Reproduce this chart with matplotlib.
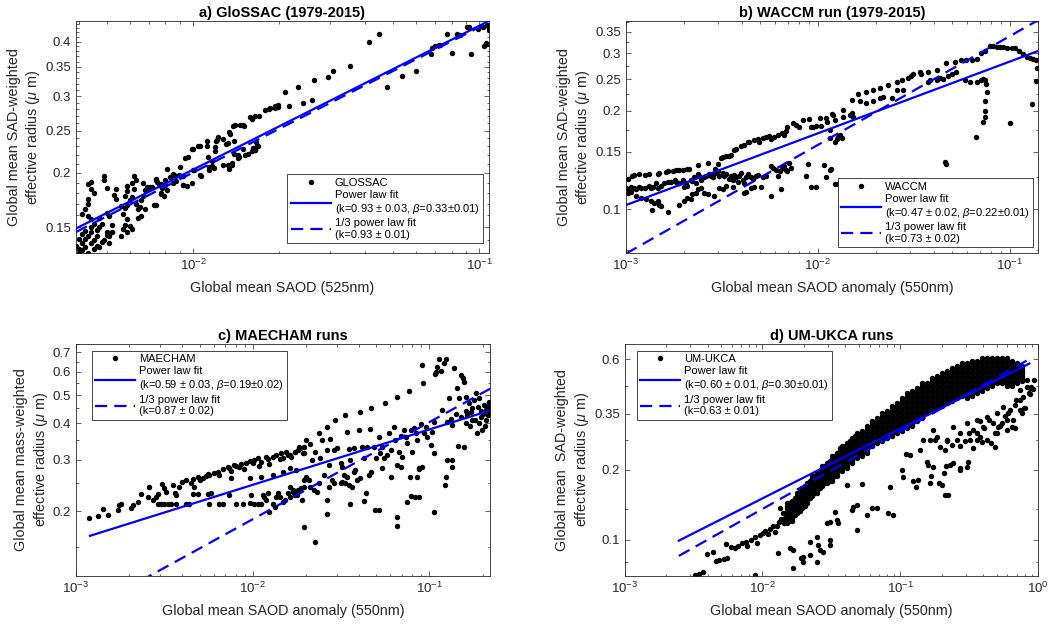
import numpy as np
import matplotlib
matplotlib.use("Agg")
import matplotlib.pyplot as plt
from matplotlib.ticker import (FixedLocator, FixedFormatter, NullFormatter,
                               LogLocator, LogFormatterSciNotation)

plt.rcParams['font.family'] = ['Liberation Sans', 'DejaVu Sans']
plt.rcParams['mathtext.fontset'] = 'custom'
plt.rcParams['mathtext.rm'] = 'Liberation Sans'
plt.rcParams['mathtext.it'] = 'Liberation Sans:italic'
plt.rcParams['mathtext.bf'] = 'Liberation Sans:bold'

# ---------------- a) GloSSAC (1979-2015) ----------------
glossac_saod = [
    0.0044, 0.0043, 0.0044, 0.0045, 0.0049, 0.0049, 0.0050, 0.0043, 0.0043, 0.0042,
    0.0041, 0.0043, 0.0044, 0.0045, 0.0047, 0.0050, 0.0051, 0.0052, 0.0048, 0.0044,
    0.0042, 0.0041, 0.0040, 0.0039, 0.0040, 0.0041, 0.0042, 0.0043, 0.0044, 0.0046,
    0.0047, 0.0046, 0.0045, 0.0044, 0.0042, 0.0041, 0.0040, 0.0043, 0.0045, 0.0046,
    0.0048, 0.0049, 0.0050, 0.0050, 0.0051, 0.0052, 0.0051, 0.0047, 0.0054, 0.0053,
    0.0054, 0.0058, 0.0059, 0.0059, 0.0061, 0.0062, 0.0063, 0.0062, 0.0061, 0.0060,
    0.0059, 0.0058, 0.0056, 0.0057, 0.0059, 0.0058, 0.0060, 0.0061, 0.0059, 0.0056,
    0.0057, 0.0063, 0.0064, 0.0065, 0.0067, 0.0068, 0.0069, 0.0070, 0.0072, 0.0067,
    0.0066, 0.0068, 0.0066, 0.0064, 0.0074, 0.0075, 0.0076, 0.0077, 0.0079, 0.0077,
    0.0079, 0.0074, 0.0081, 0.0080, 0.0083, 0.0086, 0.0085, 0.0087, 0.0089, 0.0090,
    0.0092, 0.0095, 0.0099, 0.0101, 0.0100, 0.0096, 0.0106, 0.0107, 0.0112, 0.0114,
    0.0116, 0.0118, 0.0119, 0.0120, 0.0122, 0.0127, 0.0132, 0.0134, 0.0137, 0.0139,
    0.0139, 0.0145, 0.0149, 0.0155, 0.0164, 0.0168, 0.0166, 0.0164, 0.0134, 0.0138,
    0.0140, 0.0149, 0.0151, 0.0161, 0.0164, 0.0184, 0.0185, 0.0198, 0.0198, 0.0217,
    0.0412, 0.0447, 0.0475, 0.0537, 0.0603, 0.0352, 0.0308, 0.0296, 0.0265, 0.0261,
    0.0243, 0.0232, 0.0210, 0.0194, 0.0194, 0.0179, 0.0170, 0.0158, 0.0685, 0.0700,
    0.0720, 0.0730, 0.0678, 0.0771, 0.0803, 0.0836, 0.0857, 0.0905, 0.0920, 0.0935,
    0.0987, 0.1035, 0.1054, 0.1065, 0.1080, 0.1075, 0.1060, 0.1027,
    0.0094, 0.0092, 0.0092, 0.0085, 0.0081, 0.0080, 0.0078, 0.0077, 0.0074, 0.0073,
    0.0071, 0.0100, 0.0104, 0.0099, 0.0106, 0.0114, 0.0116, 0.0113, 0.0112, 0.0119,
    0.0121, 0.0130, 0.0127, 0.0132, 0.0137, 0.0143, 0.0144, 0.0152, 0.0135, 0.0146,
    0.0162, 0.0164, 0.0167, 0.0160,
]
glossac_reff = [
    0.191, 0.189, 0.184, 0.180, 0.197, 0.193, 0.185, 0.174, 0.170, 0.165,
    0.161, 0.159, 0.157, 0.153, 0.158, 0.162, 0.159, 0.152, 0.153, 0.150,
    0.147, 0.145, 0.141, 0.136, 0.134, 0.138, 0.141, 0.143, 0.146, 0.148,
    0.150, 0.143, 0.140, 0.138, 0.135, 0.133, 0.131, 0.131, 0.134, 0.136,
    0.139, 0.140, 0.146, 0.144, 0.143, 0.146, 0.138, 0.135, 0.184, 0.178,
    0.174, 0.177, 0.182, 0.187, 0.190, 0.197, 0.193, 0.184, 0.176, 0.173,
    0.169, 0.166, 0.168, 0.161, 0.157, 0.152, 0.151, 0.149, 0.146, 0.143,
    0.149, 0.170, 0.165, 0.167, 0.190, 0.183, 0.186, 0.185, 0.186, 0.177,
    0.173, 0.165, 0.159, 0.158, 0.193, 0.191, 0.188, 0.189, 0.187, 0.179,
    0.177, 0.169, 0.183, 0.188, 0.196, 0.198, 0.190, 0.192, 0.198, 0.206,
    0.188, 0.187, 0.190, 0.203, 0.227, 0.217, 0.230, 0.197, 0.231, 0.203,
    0.207, 0.205, 0.225, 0.237, 0.242, 0.239, 0.234, 0.204, 0.209, 0.237,
    0.221, 0.217, 0.227, 0.221, 0.226, 0.231, 0.235, 0.228, 0.248, 0.256,
    0.257, 0.258, 0.256, 0.266, 0.270, 0.280, 0.281, 0.286, 0.283, 0.284,
    0.400, 0.416, 0.314, 0.334, 0.342, 0.352, 0.343, 0.331, 0.327, 0.294,
    0.289, 0.315, 0.307, 0.285, 0.282, 0.279, 0.270, 0.269, 0.387, 0.390,
    0.393, 0.393, 0.374, 0.417, 0.377, 0.417, 0.415, 0.432, 0.433, 0.374,
    0.428, 0.390, 0.398, 0.395, 0.425, 0.434, 0.436, 0.432,
    0.216, 0.197, 0.188, 0.199, 0.204, 0.193, 0.185, 0.180, 0.194, 0.169,
    0.186, 0.203, 0.230, 0.227, 0.198, 0.206, 0.213, 0.217, 0.237, 0.229,
    0.238, 0.233, 0.208, 0.209, 0.211, 0.220, 0.216, 0.220, 0.246, 0.258,
    0.228, 0.226, 0.231, 0.224,
]

# ---------------- b) WACCM run (1979-2015) ----------------
waccm_saod = [
    # upper branch
    1.03e-3, 1.08e-3, 1.105e-3, 1.17e-3, 1.25e-3, 1.32e-3, 1.46e-3, 1.49e-3, 1.62e-3, 1.65e-3,
    1.75e-3, 1.82e-3, 1.89e-3, 1.97e-3, 2.09e-3, 2.14e-3, 2.36e-3, 2.66e-3, 2.92e-3, 3.00e-3,
    3.12e-3, 3.19e-3, 3.32e-3, 3.46e-3, 3.53e-3, 3.67e-3, 3.74e-3, 3.97e-3, 4.13e-3, 4.30e-3,
    4.38e-3, 4.65e-3, 4.85e-3, 4.95e-3, 5.15e-3, 5.36e-3, 5.58e-3, 5.70e-3, 5.92e-3, 6.16e-3,
    6.53e-3, 6.66e-3, 6.80e-3, 6.93e-3, 7.38e-3, 7.68e-3, 8.00e-3, 8.33e-3, 9.01e-3, 9.19e-3,
    9.38e-3, 9.76e-3, 1.02e-2, 1.04e-2, 1.10e-2, 1.12e-2, 1.15e-2, 1.19e-2,
    # middle branch
    1.00e-3, 1.04e-3, 1.06e-3, 1.105e-3, 1.13e-3, 1.17e-3, 1.20e-3, 1.25e-3, 1.32e-3, 1.35e-3,
    1.38e-3, 1.43e-3, 1.46e-3, 1.52e-3, 1.58e-3, 1.65e-3, 1.72e-3, 1.79e-3, 1.82e-3, 1.89e-3,
    1.97e-3, 2.01e-3, 2.05e-3, 2.09e-3, 2.18e-3, 2.22e-3, 2.27e-3, 2.31e-3, 2.36e-3, 2.41e-3,
    2.46e-3, 2.56e-3, 2.61e-3, 2.72e-3, 2.78e-3, 2.83e-3, 2.92e-3, 3.00e-3, 3.06e-3, 3.19e-3,
    3.25e-3, 3.32e-3, 3.46e-3, 3.53e-3, 3.60e-3, 3.67e-3, 3.74e-3, 3.82e-3, 3.89e-3, 3.97e-3,
    4.05e-3, 4.13e-3, 4.21e-3, 4.30e-3, 4.47e-3, 4.57e-3, 4.75e-3, 4.85e-3, 5.15e-3, 5.36e-3,
    5.70e-3, 5.81e-3, 6.04e-3, 6.16e-3, 6.33e-3, 6.53e-3, 6.66e-3, 6.80e-3, 6.93e-3, 7.07e-3,
    7.22e-3,
    # lower branch
    1.02e-3, 1.06e-3, 1.13e-3, 1.20e-3, 1.27e-3, 1.35e-3, 1.40e-3, 1.46e-3, 1.49e-3, 1.52e-3,
    1.37e-3, 1.65e-3, 1.89e-3, 2.01e-3, 2.09e-3, 2.18e-3, 2.22e-3, 2.31e-3, 2.36e-3, 2.46e-3,
    2.56e-3, 2.66e-3, 2.89e-3, 3.06e-3, 3.19e-3, 3.32e-3, 3.60e-3, 4.13e-3, 4.21e-3, 4.47e-3,
    4.65e-3, 5.05e-3, 5.70e-3, 6.40e-3, 8.67e-3, 8.84e-3, 9.76e-3, 1.08e-2, 1.10e-2, 1.17e-2,
    1.23e-2, 9.2e-3,
    # large-SAOD part
    0.0122, 0.0120, 0.0135, 0.0135, 0.0147, 0.0150, 0.0153, 0.0150, 0.0162, 0.0165,
    0.0179, 0.0179, 0.0194, 0.0194, 0.0210, 0.0210, 0.0219, 0.0232, 0.0242, 0.0257,
    0.0257, 0.0273, 0.0279, 0.0296, 0.0307, 0.0313, 0.0339, 0.0346, 0.0376, 0.0376,
    0.0383, 0.0415, 0.0415, 0.0432, 0.0450, 0.0467, 0.0477, 0.0497, 0.0515, 0.0526,
    0.0559, 0.0582, 0.0594, 0.0618, 0.0631, 0.0670, 0.0670, 0.0711, 0.0711, 0.0725,
    0.0740, 0.0740, 0.0755, 0.0760, 0.0745, 0.0745, 0.0740, 0.0725, 0.0664, 0.0787,
    0.0819, 0.0852, 0.0887, 0.0923, 0.0961, 0.1020, 0.1062, 0.1118, 0.1172, 0.1220,
    0.127, 0.132, 0.137, 0.131, 0.100, 0.0459, 0.0467, 0.01155, 0.0122, 0.0125,
    0.0127, 0.0133, 0.0130, 0.01155, 0.0127, 0.138, 0.137,
]
waccm_reff = [
    0.124, 0.126, 0.127, 0.128, 0.127, 0.128, 0.128, 0.129, 0.130, 0.131,
    0.131, 0.132, 0.132, 0.132, 0.133, 0.133, 0.136, 0.138, 0.133, 0.137,
    0.143, 0.144, 0.145, 0.145, 0.146, 0.152, 0.153, 0.156, 0.157, 0.161,
    0.160, 0.163, 0.164, 0.161, 0.165, 0.166, 0.167, 0.164, 0.166, 0.169,
    0.171, 0.169, 0.173, 0.178, 0.183, 0.181, 0.179, 0.188, 0.189, 0.179,
    0.178, 0.180, 0.190, 0.180, 0.190, 0.185, 0.175, 0.195,
    0.116, 0.115, 0.117, 0.116, 0.115, 0.117, 0.116, 0.116, 0.118, 0.116,
    0.117, 0.120, 0.116, 0.118, 0.120, 0.121, 0.121, 0.123, 0.121, 0.120,
    0.123, 0.117, 0.120, 0.118, 0.123, 0.122, 0.125, 0.120, 0.128, 0.126,
    0.123, 0.125, 0.126, 0.128, 0.126, 0.125, 0.129, 0.131, 0.126, 0.129,
    0.126, 0.128, 0.124, 0.126, 0.123, 0.127, 0.125, 0.121, 0.126, 0.129,
    0.123, 0.120, 0.125, 0.128, 0.125, 0.124, 0.126, 0.127, 0.125, 0.126,
    0.135, 0.134, 0.132, 0.126, 0.131, 0.134, 0.135, 0.132, 0.131, 0.138,
    0.134,
    0.112, 0.113, 0.110, 0.108, 0.107, 0.106, 0.104, 0.106, 0.103, 0.102,
    0.099, 0.098, 0.103, 0.106, 0.108, 0.107, 0.111, 0.112, 0.115, 0.116,
    0.112, 0.111, 0.110, 0.116, 0.115, 0.118, 0.117, 0.112, 0.113, 0.116,
    0.117, 0.117, 0.110, 0.115, 0.126, 0.137, 0.117, 0.136, 0.125, 0.133,
    0.119, 0.117,
    0.188, 0.194, 0.201, 0.192, 0.194, 0.197, 0.192, 0.216, 0.225, 0.215,
    0.228, 0.212, 0.231, 0.215, 0.235, 0.219, 0.220, 0.240, 0.219, 0.245,
    0.231, 0.248, 0.231, 0.252, 0.256, 0.260, 0.263, 0.260, 0.263, 0.245,
    0.248, 0.267, 0.249, 0.252, 0.250, 0.280, 0.256, 0.260, 0.283, 0.263,
    0.286, 0.248, 0.286, 0.245, 0.287, 0.245, 0.289, 0.248, 0.300, 0.251,
    0.248, 0.304, 0.242, 0.228, 0.215, 0.200, 0.192, 0.185, 0.166, 0.315,
    0.316, 0.314, 0.314, 0.314, 0.312, 0.312, 0.312, 0.304, 0.298, 0.292,
    0.290, 0.288, 0.286, 0.210, 0.183, 0.139, 0.137, 0.165, 0.161, 0.164,
    0.166, 0.165, 0.169, 0.132, 0.119, 0.270, 0.246,
]

# ---------------- c) MAECHAM runs ----------------
maecham_saod = [
    1.19e-3, 1.33e-3, 1.43e-3, 1.51e-3, 1.72e-3, 1.74e-3, 1.80e-3, 2.05e-3, 2.10e-3, 2.24e-3,
    2.34e-3, 2.55e-3, 2.60e-3, 2.84e-3, 2.90e-3, 3.07e-3, 3.16e-3, 3.23e-3, 3.53e-3, 3.61e-3,
    3.68e-3, 3.81e-3, 3.98e-3, 4.20e-3, 4.48e-3, 4.58e-3, 4.68e-3, 4.89e-3, 5.00e-3, 5.22e-3,
    5.45e-3, 5.57e-3, 5.69e-3, 6.07e-3, 6.34e-3, 6.48e-3, 6.77e-3, 7.22e-3, 7.38e-3, 7.54e-3,
    7.87e-3, 8.05e-3, 8.41e-3, 8.60e-3, 8.98e-3, 9.18e-3, 9.59e-3, 1.00e-2, 1.02e-2, 1.07e-2,
    1.08e-2, 1.11e-2, 1.19e-2, 1.22e-2, 1.24e-2, 1.30e-2, 1.36e-2, 1.42e-2, 1.45e-2, 1.48e-2,
    1.55e-2, 1.58e-2, 1.65e-2, 1.73e-2, 1.80e-2, 1.84e-2, 1.92e-2, 1.96e-2,
    2.72e-3, 2.90e-3, 3.03e-3, 3.16e-3, 3.31e-3, 3.45e-3, 3.68e-3, 4.20e-3, 4.38e-3, 4.58e-3,
    4.89e-3, 5.57e-3, 5.69e-3, 5.82e-3, 6.48e-3, 6.77e-3, 7.38e-3, 8.05e-3, 8.79e-3, 9.59e-3,
    9.80e-3, 1.02e-2, 1.07e-2, 1.11e-2, 1.14e-2, 1.16e-2, 1.19e-2, 1.22e-2, 1.24e-2, 1.30e-2,
    1.33e-2, 1.36e-2, 1.39e-2, 1.42e-2, 1.48e-2, 1.52e-2, 1.58e-2, 1.62e-2, 1.69e-2, 1.73e-2,
    1.80e-2, 1.88e-2, 1.96e-2,
    7.54e-3, 9.59e-3, 1.11e-2, 1.48e-2, 1.76e-2, 1.30e-2, 1.62e-2,
    0.0163, 0.0174, 0.0182, 0.0186, 0.0194, 0.0199, 0.0212, 0.0217, 0.0226, 0.0236,
    0.0241, 0.0247, 0.0263, 0.0263, 0.0269, 0.0275, 0.0287, 0.0293, 0.0300, 0.0314,
    0.0320, 0.0334, 0.0341, 0.0349, 0.0356, 0.0372, 0.0381, 0.0398, 0.0407, 0.0416,
    0.0425, 0.0444, 0.0453, 0.0464, 0.0459, 0.0485, 0.0495, 0.0517, 0.0528, 0.0540,
    0.0551, 0.0563, 0.0576, 0.0589, 0.0602, 0.0629, 0.0642, 0.0651, 0.0657, 0.0671,
    0.0686, 0.0701, 0.0717, 0.0732, 0.0765, 0.0749, 0.0782, 0.0799, 0.0816, 0.0834,
    0.0853, 0.0871, 0.0853, 0.0891, 0.0902, 0.0922, 0.0931, 0.0952, 0.0972, 0.1016,
    0.1038, 0.1061, 0.1070, 0.1084, 0.1108, 0.1133, 0.1157, 0.1183, 0.1209, 0.1236,
    0.1263, 0.1291, 0.1319, 0.1337, 0.1348, 0.1378, 0.1409, 0.144, 0.147, 0.150,
    0.154, 0.156, 0.157, 0.161, 0.164, 0.168, 0.172, 0.175, 0.179, 0.183,
    0.187, 0.191, 0.195, 0.199, 0.204, 0.208, 0.213, 0.217, 0.220,
    0.0163, 0.0170, 0.0174, 0.0178, 0.0182, 0.0190, 0.0194, 0.0199, 0.0208, 0.0212,
    0.0221, 0.0231, 0.0236, 0.0252, 0.0263, 0.0263, 0.0269, 0.0281, 0.0287, 0.0314,
    0.0320, 0.0327, 0.0334, 0.0341, 0.0349, 0.0364, 0.0372, 0.0390, 0.0407, 0.0435,
    0.0464, 0.0517, 0.0540, 0.0602, 0.0657, 0.0657, 0.0686, 0.0775, 0.0790, 0.0871,
    0.0911, 0.1061, 0.1236, 0.1220,
    0.0196, 0.0226, 0.0354, 0.0425, 0.0494, 0.0747, 0.0830, 0.0870, 0.1060, 0.1250,
    0.1335, 0.1455,
    0.150, 0.160, 0.170, 0.180, 0.190, 0.200, 0.210, 0.220, 0.205, 0.185,
    0.175, 0.195, 0.210, 0.215, 0.160,
]
maecham_reff = [
    0.189, 0.192, 0.203, 0.194, 0.201, 0.209, 0.211, 0.204, 0.209, 0.215,
    0.228, 0.224, 0.242, 0.223, 0.228, 0.247, 0.239, 0.233, 0.245, 0.230,
    0.227, 0.242, 0.252, 0.255, 0.249, 0.257, 0.242, 0.262, 0.255, 0.259,
    0.263, 0.268, 0.266, 0.269, 0.273, 0.266, 0.278, 0.284, 0.281, 0.275,
    0.288, 0.286, 0.283, 0.290, 0.278, 0.293, 0.298, 0.292, 0.299, 0.303,
    0.286, 0.295, 0.307, 0.301, 0.290, 0.307, 0.311, 0.301, 0.315, 0.303,
    0.319, 0.311, 0.307, 0.319, 0.324, 0.328, 0.317, 0.332,
    0.218, 0.211, 0.211, 0.212, 0.211, 0.211, 0.212, 0.212, 0.212, 0.228,
    0.228, 0.228, 0.211, 0.231, 0.211, 0.211, 0.227, 0.211, 0.211, 0.213,
    0.227, 0.211, 0.212, 0.211, 0.227, 0.224, 0.219, 0.230, 0.199, 0.212,
    0.207, 0.224, 0.231, 0.224, 0.215, 0.219, 0.230, 0.224, 0.233, 0.227,
    0.236, 0.239, 0.242,
    0.260, 0.260, 0.262, 0.273, 0.277, 0.265, 0.280,
    0.311, 0.319, 0.332, 0.328, 0.315, 0.350, 0.339, 0.299, 0.319, 0.369,
    0.303, 0.350, 0.389, 0.324, 0.288, 0.352, 0.324, 0.410, 0.328, 0.292,
    0.284, 0.426, 0.374, 0.326, 0.299, 0.328, 0.277, 0.379, 0.438, 0.332,
    0.303, 0.332, 0.266, 0.450, 0.381, 0.332, 0.303, 0.359, 0.315, 0.332,
    0.303, 0.468, 0.311, 0.369, 0.324, 0.387, 0.350, 0.491, 0.288, 0.319,
    0.361, 0.307, 0.379, 0.359, 0.517, 0.341, 0.379, 0.319, 0.384, 0.369,
    0.350, 0.278, 0.262, 0.399, 0.633, 0.551, 0.369, 0.389, 0.359, 0.337,
    0.374, 0.404, 0.590, 0.601, 0.622, 0.662, 0.605, 0.444, 0.642, 0.666,
    0.404, 0.487, 0.415, 0.300, 0.394, 0.617, 0.432, 0.527, 0.487, 0.585,
    0.570, 0.555, 0.332, 0.493, 0.426, 0.468, 0.438, 0.410, 0.480, 0.506,
    0.456, 0.487, 0.421, 0.379, 0.462, 0.444, 0.426, 0.474, 0.456,
    0.242, 0.236, 0.230, 0.227, 0.236, 0.218, 0.255, 0.262, 0.255, 0.242,
    0.236, 0.233, 0.249, 0.266, 0.218, 0.196, 0.242, 0.255, 0.249, 0.249,
    0.252, 0.266, 0.249, 0.262, 0.245, 0.242, 0.273, 0.255, 0.259, 0.230,
    0.273, 0.202, 0.281, 0.262, 0.191, 0.177, 0.284, 0.262, 0.225, 0.281,
    0.284, 0.199, 0.262, 0.245,
    0.176, 0.157, 0.211, 0.217, 0.202, 0.214, 0.223, 0.223, 0.316, 0.300,
    0.283, 0.335,
    0.420, 0.400, 0.390, 0.410, 0.400, 0.430, 0.410, 0.440, 0.390, 0.370,
    0.450, 0.440, 0.460, 0.430, 0.440,
]

# ---------------- d) UM-UKCA runs ----------------
ukca_saod = [
    # low-SAOD tail
    0.00326, 0.00344, 0.00370, 0.00396, 0.00435, 0.00462, 0.00481, 0.00524, 0.00553, 0.00547,
    0.00592, 0.00636, 0.00662, 0.00713, 0.00755, 0.00776, 0.00830, 0.00882, 0.00918, 0.00967,
    0.01011, 0.01051, 0.01093, 0.01142, 0.01195, 0.01242, 0.01278, 0.01315, 0.01366, 0.01412,
    0.01428, 0.01468, 0.01351, 0.00887,
    # points below the main cloud
    0.1176, 0.1553, 0.1598, 0.1737, 0.1644, 0.1996, 0.2232, 0.2295, 0.2426, 0.2712,
    0.3031, 0.3116, 0.3388, 0.3585, 0.3894, 0.4232, 0.4597, 0.4865, 0.5000, 0.5141,
    0.5910, 0.6427, 0.6796, 0.7387, 0.8031, 0.8731, 0.9232, 0.934, 0.1052, 0.1023,
    0.1312, 0.1350, 0.0842, 0.0408, 0.0524, 0.0456, 0.0482, 0.0443, 0.0570, 0.0620,
    0.0674, 0.0819, 0.0890, 0.0336, 0.0355, 0.0345, 0.0292, 0.0309, 0.0482, 0.0221,
    0.0247, 0.0254, 0.0261, 0.0309, 0.0309, 0.0276, 0.0247, 0.0221, 0.0198, 0.0198,
    0.0167, 0.0158, 0.0167, 0.0129, 0.0190, 0.1106, 0.1237, 0.1397, 0.1671, 0.1901,
    0.2064, 0.2122, 0.2157, 0.2697, 0.1652, 0.1795, 0.2122, 0.2181, 0.2372, 0.2578,
    0.2725, 0.2964, 0.3131, 0.3602, 0.3807, 0.4025, 0.4375, 0.4890, 0.5315, 0.5463,
    0.5775, 0.6107, 0.6826, 0.7428, 0.7636, 0.7852, 0.8303, 0.8535, 0.8780,
    0.2426, 0.2712, 0.3031, 0.3206, 0.3388, 0.3585, 0.3786, 0.4005, 0.4232, 0.4730,
    0.5000, 0.5590, 0.5910, 0.6250, 0.6610, 0.6980, 0.7387, 0.7810, 0.8259, 0.8950,
    0.1840, 0.1938, 0.2169, 0.1737, 0.1473,
]
ukca_reff = [
    0.0707, 0.0714, 0.0728, 0.0871, 0.0882, 0.0808, 0.0816, 0.0827, 0.0835, 0.0961,
    0.0930, 0.0918, 0.0936, 0.0966, 0.0979, 0.0936, 0.0999, 0.1026, 0.0966, 0.1046,
    0.1069, 0.1087, 0.1062, 0.1112, 0.1141, 0.1080, 0.1141, 0.1187, 0.1226, 0.1304,
    0.1181, 0.1238, 0.1370, 0.0707,
    0.2316, 0.2168, 0.2098, 0.2063, 0.1748, 0.1720, 0.1558, 0.2098, 0.2133, 0.1996,
    0.2063, 0.2168, 0.2474, 0.2688, 0.2644, 0.2688, 0.2601, 0.2516, 0.2871, 0.3067,
    0.2968, 0.3067, 0.3017, 0.3619, 0.3679, 0.4269, 0.4484, 0.4874, 0.1868, 0.1996,
    0.1692, 0.1808, 0.1692, 0.1720, 0.1737, 0.1388, 0.1411, 0.1343, 0.1277, 0.1366,
    0.1366, 0.1299, 0.1277, 0.1321, 0.1176, 0.1216, 0.1176, 0.1196, 0.1101, 0.0981,
    0.1030, 0.0950, 0.0903, 0.0997, 0.0950, 0.0889, 0.0804, 0.0860, 0.0846, 0.0804,
    0.0903, 0.0918, 0.0753, 0.0875, 0.0835, 0.2332, 0.1784, 0.2442, 0.1875, 0.1755,
    0.1938, 0.1561, 0.2070, 0.2037, 0.2697, 0.2697, 0.2442, 0.2653, 0.2568, 0.2697,
    0.2524, 0.2653, 0.2881, 0.2881, 0.3234, 0.3018, 0.3288, 0.2881, 0.3077, 0.3181,
    0.3399, 0.3514, 0.3815, 0.4008, 0.3514, 0.3691, 0.4575, 0.4286, 0.4500,
    0.3067, 0.2871, 0.3171, 0.2688, 0.2968, 0.3277, 0.2781, 0.3067, 0.3388, 0.3171,
    0.3502, 0.3732, 0.3277, 0.3619, 0.3277, 0.3994, 0.4412, 0.4139, 0.4874, 0.4559,
    0.2781, 0.2516, 0.2688, 0.2968, 0.2688,
]
# dense part of the UM-UKCA cloud: SAOD -> effective radii found at that SAOD
ukca_cloud = {
    0.0151: [0.1440, 0.1404, 0.1370, 0.1336, 0.1304, 0.1272, 0.1241, 0.1210, 0.1181],
    0.0157: [0.1440, 0.1404, 0.1370, 0.1336, 0.1304, 0.1272, 0.1241, 0.1210],
    0.0164: [0.1476, 0.1440, 0.1404, 0.1370, 0.1336, 0.1304, 0.1272, 0.1241, 0.1210],
    0.0171: [0.1513, 0.1476, 0.1440, 0.1404, 0.1370, 0.1336, 0.1304, 0.1272],
    0.0179: [0.1590, 0.1551, 0.1513, 0.1476, 0.1440, 0.1404, 0.1370, 0.1336, 0.1304],
    0.0186: [0.1629, 0.1590, 0.1551, 0.1513, 0.1476, 0.1440, 0.1404, 0.1370, 0.1336],
    0.0194: [0.1670, 0.1629, 0.1590, 0.1551, 0.1513, 0.1476, 0.1440, 0.1404, 0.1370],
    0.0202: [0.1712, 0.1670, 0.1629, 0.1590, 0.1551, 0.1513, 0.1476, 0.1440, 0.1404],
    0.0211: [0.1755, 0.1712, 0.1670, 0.1629, 0.1590, 0.1551, 0.1513, 0.1476, 0.1440],
    0.0220: [0.1799, 0.1755, 0.1712, 0.1670, 0.1629, 0.1590, 0.1551, 0.1513],
    0.0230: [0.1891, 0.1845, 0.1799, 0.1755, 0.1712, 0.1670, 0.1629, 0.1590, 0.1551],
    0.0240: [0.1891, 0.1845, 0.1799, 0.1755, 0.1712, 0.1670, 0.1629, 0.1590],
    0.0250: [0.1938, 0.1891, 0.1845, 0.1799, 0.1755, 0.1712, 0.1670, 0.1629, 0.1590],
    0.0261: [0.1987, 0.1938, 0.1891, 0.1845, 0.1799, 0.1755, 0.1712, 0.1670],
    0.0271: [0.2088, 0.2037, 0.1987, 0.1938, 0.1891, 0.1845, 0.1799, 0.1755, 0.1712],
    0.0283: [0.2088, 0.2037, 0.1987, 0.1938, 0.1891, 0.1845, 0.1799, 0.1755],
    0.0295: [0.2140, 0.2088, 0.2037, 0.1987, 0.1938, 0.1891, 0.1845, 0.1799, 0.1755],
    0.0308: [0.2194, 0.2140, 0.2088, 0.2037, 0.1987, 0.1938, 0.1891, 0.1845, 0.1799],
    0.0321: [0.2306, 0.2249, 0.2194, 0.2140, 0.2088, 0.2037, 0.1987, 0.1938, 0.1891,
             0.1845, 0.1799],
    0.0335: [0.2306, 0.2249, 0.2194, 0.2140, 0.2088, 0.2037, 0.1987, 0.1938, 0.1891],
    0.0349: [0.2363, 0.2306, 0.2249, 0.2194, 0.2140, 0.2088, 0.2037, 0.1987, 0.1938,
             0.1891],
    0.0364: [0.2484, 0.2423, 0.2363, 0.2306, 0.2249, 0.2194, 0.2140, 0.2088, 0.2037],
    0.0379: [0.2546, 0.2484, 0.2423, 0.2363, 0.2306, 0.2249, 0.2194, 0.2140, 0.2088,
             0.2037, 0.1987],
    0.0395: [0.2546, 0.2484, 0.2423, 0.2363, 0.2306, 0.2249, 0.2194, 0.2140, 0.2088],
    0.0412: [0.2610, 0.2546, 0.2484, 0.2423, 0.2363, 0.2306, 0.2249, 0.2194, 0.2140,
             0.2088, 0.2037],
    0.0430: [0.2675, 0.2610, 0.2546, 0.2484, 0.2423, 0.2363, 0.2306, 0.2249, 0.2194],
    0.0448: [0.2742, 0.2675, 0.2610, 0.2546, 0.2484, 0.2423, 0.2363, 0.2306, 0.2249,
             0.2194, 0.2140],
    0.0467: [0.2811, 0.2742, 0.2675, 0.2610, 0.2546, 0.2484, 0.2423, 0.2363, 0.2306],
    0.0487: [0.2882, 0.2811, 0.2742, 0.2675, 0.2610, 0.2546, 0.2484, 0.2423, 0.2363,
             0.2306, 0.2249],
    0.0530: [0.2954, 0.2882, 0.2811, 0.2742, 0.2675, 0.2610, 0.2546, 0.2484, 0.2423,
             0.2363, 0.2306],
    0.0576: [0.3104, 0.3028, 0.2954, 0.2882, 0.2811, 0.2742, 0.2675, 0.2610, 0.2546,
             0.2484, 0.2423, 0.2363],
    0.0626: [0.3262, 0.3182, 0.3104, 0.3028, 0.2954, 0.2882, 0.2811, 0.2742, 0.2675,
             0.2610, 0.2546],
    0.0681: [0.3344, 0.3262, 0.3182, 0.3104, 0.3028, 0.2954, 0.2882, 0.2811, 0.2742,
             0.2675, 0.2610],
    0.0740: [0.3514, 0.3428, 0.3344, 0.3262, 0.3182, 0.3104, 0.3028, 0.2954, 0.2882,
             0.2811, 0.2742, 0.2675],
    0.0805: [0.3602, 0.3514, 0.3428, 0.3344, 0.3262, 0.3182, 0.3104, 0.3028, 0.2954,
             0.2882, 0.2811, 0.2742],
    0.0875: [0.3785, 0.3692, 0.3602, 0.3514, 0.3428, 0.3344, 0.3262, 0.3182, 0.3104,
             0.3028, 0.2954, 0.2882, 0.2811],
    0.0951: [0.3880, 0.3785, 0.3692, 0.3602, 0.3514, 0.3428, 0.3344, 0.3262, 0.3182,
             0.3104, 0.3028, 0.2954, 0.2882],
    0.1034: [0.4077, 0.3977, 0.3880, 0.3785, 0.3692, 0.3602, 0.3514, 0.3428, 0.3344,
             0.3262, 0.3182, 0.3104, 0.3028, 0.2954],
    0.1124: [0.4285, 0.4180, 0.4077, 0.3977, 0.3880, 0.3785, 0.3692, 0.3602, 0.3514,
             0.3428, 0.3344, 0.3262, 0.3182, 0.3104, 0.3028],
    0.1222: [0.4392, 0.4285, 0.4180, 0.4077, 0.3977, 0.3880, 0.3785, 0.3692, 0.3602,
             0.3514, 0.3428, 0.3344, 0.3262, 0.3182, 0.3104],
    0.1329: [0.4502, 0.4392, 0.4285, 0.4180, 0.4077, 0.3977, 0.3880, 0.3785, 0.3692,
             0.3602, 0.3514, 0.3428, 0.3344, 0.3262],
    0.1445: [0.4731, 0.4615, 0.4502, 0.4392, 0.4285, 0.4180, 0.4077, 0.3977, 0.3880,
             0.3785, 0.3692, 0.3602, 0.3514, 0.3428, 0.3344],
    0.157: [0.4731, 0.4615, 0.4502, 0.4392, 0.4285, 0.4180, 0.4077, 0.3977, 0.3880,
            0.3785, 0.3692, 0.3602, 0.3514],
    0.171: [0.4971, 0.4850, 0.4731, 0.4615, 0.4502, 0.4392, 0.4285, 0.4180, 0.4077,
            0.3977, 0.3880, 0.3785, 0.3692, 0.3602],
    0.186: [0.5096, 0.4971, 0.4850, 0.4731, 0.4615, 0.4502, 0.4392, 0.4285, 0.4180,
            0.4077, 0.3977, 0.3880, 0.3785, 0.3692],
    0.202: [0.5224, 0.5096, 0.4971, 0.4850, 0.4731, 0.4615, 0.4502, 0.4392, 0.4285,
            0.4180, 0.4077, 0.3977, 0.3880, 0.3785],
    0.219: [0.5355, 0.5224, 0.5096, 0.4971, 0.4850, 0.4731, 0.4615, 0.4502, 0.4392,
            0.4285, 0.4180, 0.4077, 0.3977, 0.3880],
    0.238: [0.5489, 0.5355, 0.5224, 0.5096, 0.4971, 0.4850, 0.4731, 0.4615, 0.4502,
            0.4392, 0.4285, 0.4180, 0.4077, 0.3977],
    0.259: [0.5627, 0.5489, 0.5355, 0.5224, 0.5096, 0.4971, 0.4850, 0.4731, 0.4615,
            0.4502, 0.4392, 0.4285, 0.4180, 0.4077],
    0.282: [0.5768, 0.5627, 0.5489, 0.5355, 0.5224, 0.5096, 0.4971, 0.4850, 0.4731,
            0.4615, 0.4502, 0.4392, 0.4285, 0.4180],
    0.306: [0.5768, 0.5627, 0.5489, 0.5355, 0.5224, 0.5096, 0.4971, 0.4850, 0.4731,
            0.4615, 0.4502, 0.4392, 0.4285, 0.4180, 0.4077],
    0.333: [0.5913, 0.5768, 0.5627, 0.5489, 0.5355, 0.5224, 0.5096, 0.4971, 0.4850,
            0.4731, 0.4615, 0.4502, 0.4392, 0.4285, 0.4180],
    0.362: [0.5913, 0.5768, 0.5627, 0.5489, 0.5355, 0.5224, 0.5096, 0.4971, 0.4850,
            0.4731, 0.4615, 0.4502, 0.4392, 0.4285],
    0.394: [0.6061, 0.5913, 0.5768, 0.5627, 0.5489, 0.5355, 0.5224, 0.5096, 0.4971,
            0.4850, 0.4731, 0.4615, 0.4502, 0.4392],
    0.428: [0.6061, 0.5913, 0.5768, 0.5627, 0.5489, 0.5355, 0.5224, 0.5096, 0.4971,
            0.4850, 0.4731, 0.4615, 0.4502],
    0.465: [0.6061, 0.5913, 0.5768, 0.5627, 0.5489, 0.5355, 0.5224, 0.5096, 0.4971,
            0.4850, 0.4731, 0.4615],
    0.506: [0.6061, 0.5913, 0.5768, 0.5627, 0.5489, 0.5355, 0.5224, 0.5096, 0.4971,
            0.4850, 0.4731],
    0.550: [0.6061, 0.5913, 0.5768, 0.5627, 0.5489, 0.5355, 0.5224, 0.5096, 0.4971,
            0.4850, 0.4731],
    0.598: [0.6061, 0.5913, 0.5768, 0.5627, 0.5489, 0.5355, 0.5224, 0.5096, 0.4971,
            0.4850, 0.4731, 0.4615],
    0.650: [0.5913, 0.5768, 0.5627, 0.5489, 0.5355, 0.5224, 0.5096, 0.4971, 0.4850,
            0.4731, 0.4615],
    0.707: [0.5768, 0.5627, 0.5489, 0.5355, 0.5224, 0.5096, 0.4971, 0.4850, 0.4731],
    0.768: [0.5627, 0.5489, 0.5355, 0.5224, 0.5096, 0.4971, 0.4850],
}

# fitted parameters quoted in the legends: r = k * SAOD**beta and r = k3 * SAOD**(1/3)
fit_k = [0.93, 0.47, 0.59, 0.60]
fit_k_err = [0.03, 0.02, 0.03, 0.01]
fit_beta = [0.33, 0.22, 0.19, 0.30]
fit_beta_err = [0.01, 0.01, 0.02, 0.01]
third_k = [0.93, 0.73, 0.87, 0.63]
third_k_err = [0.01, 0.02, 0.02, 0.01]

dataset_names = ['GLOSSAC', 'WACCM', 'MAECHAM', 'UM-UKCA']
titles = ['a) GloSSAC (1979-2015)', 'b) WACCM run (1979-2015)',
          'c) MAECHAM runs', 'd) UM-UKCA runs']
xlabels = ['Global mean SAOD (525nm)', 'Global mean SAOD anomaly (550nm)',
           'Global mean SAOD anomaly (550nm)', 'Global mean SAOD anomaly (550nm)']
ylabels = ['Global mean SAD-weighted\neffective radius ($\\mu$ m)',
           'Global mean SAD-weighted\neffective radius ($\\mu$ m)',
           'Global mean mass-weighted\neffective radius ($\\mu$ m)',
           'Global mean  SAD-weighted\neffective radius ($\\mu$ m)']
ytick_values = [[0.15, 0.2, 0.25, 0.3, 0.35, 0.4],
                [0.1, 0.15, 0.2, 0.25, 0.3, 0.35],
                [0.2, 0.3, 0.4, 0.5, 0.6, 0.7],
                [0.1, 0.2, 0.35, 0.6]]
ytick_labels = [['0.15', '0.2', '0.25', '0.3', '0.35', '0.4'],
                ['0.1', '0.15', '0.2', '0.25', '0.3', '0.35'],
                ['0.2', '0.3', '0.4', '0.5', '0.6', '0.7'],
                ['0.1', '0.2', '0.35', '0.6']]

# ---------------- layout / style ----------------
cloud_saod = [s for s, rs in ukca_cloud.items() for _ in rs]
cloud_reff = [r for rs in ukca_cloud.values() for r in rs]

series_saod = [glossac_saod, waccm_saod, maecham_saod, ukca_saod + cloud_saod]
series_reff = [glossac_reff, waccm_reff, maecham_reff, ukca_reff + cloud_reff]

axes_rects = [[0.0721, 0.5958, 0.3918, 0.3707],
              [0.5939, 0.5958, 0.3909, 0.3707],
              [0.0721, 0.0804, 0.3928, 0.3706],
              [0.5927, 0.0804, 0.3921, 0.3706]]
xlims = [(0.0039, 0.108), (1e-3, 0.14), (1e-3, 0.22), (1e-3, 1.0)]
ylims = [(0.131, 0.446), (0.0733, 0.377), (0.12, 0.75), (0.07, 0.70)]
fit_spans = [(0.0039, 0.108), (1e-3, 0.14), (1.2e-3, 0.22), (2.47e-3, 0.865)]
yminor = [np.arange(0.13, 0.445, 0.01),
          np.arange(0.075, 0.376, 0.025),
          np.arange(0.15, 0.76, 0.05),
          [0.08, 0.135, 0.27, 0.46]]
legend_locs = [('lower right', (0.985, 0.043)), ('lower right', (0.988, 0.026)),
               ('upper left', (0.039, 0.969)), ('upper left', (0.030, 0.969))]

ink = '#262626'
fig = plt.figure(figsize=(10.54, 6.26), dpi=100)

for i in range(4):
    ax = fig.add_axes(axes_rects[i])
    ax.set_xscale('log')
    ax.set_yscale('log')

    ax.plot(series_saod[i], series_reff[i], linestyle='none', marker='o',
            ms=3.9, mew=0, color='black', zorder=2, label=dataset_names[i])

    xs = np.geomspace(fit_spans[i][0], fit_spans[i][1], 200)
    lab_fit = ('Power law fit\n(k=%.2f ± %.2f, $\\beta$=%.2f±%.2f)'
               % (fit_k[i], fit_k_err[i], fit_beta[i], fit_beta_err[i]))
    lab_third = '1/3 power law fit\n(k=%.2f ± %.2f)' % (third_k[i], third_k_err[i])
    ax.plot(xs, fit_k[i] * xs ** fit_beta[i], color='blue', lw=1.6,
            zorder=4, label=lab_fit)
    ax.plot(xs, third_k[i] * xs ** (1.0 / 3.0), color='blue', lw=1.6,
            linestyle=(0, (5.5, 3.2)), zorder=3, label=lab_third)

    ax.set_xlim(*xlims[i])
    ax.set_ylim(*ylims[i])

    ax.xaxis.set_major_locator(LogLocator(base=10, numticks=12))
    ax.xaxis.set_major_formatter(LogFormatterSciNotation())
    ax.xaxis.set_minor_locator(LogLocator(base=10, subs=np.arange(2, 10), numticks=12))
    ax.xaxis.set_minor_formatter(NullFormatter())
    ax.yaxis.set_major_locator(FixedLocator(ytick_values[i]))
    ax.yaxis.set_major_formatter(FixedFormatter(ytick_labels[i]))
    ax.yaxis.set_minor_locator(FixedLocator(list(yminor[i])))
    ax.yaxis.set_minor_formatter(NullFormatter())

    ax.tick_params(which='both', direction='in', top=True, right=True,
                   color=ink, labelcolor=ink, labelsize=9.5)
    ax.tick_params(which='major', length=3.5, width=0.5, pad=3.5)
    ax.tick_params(which='minor', length=1.8, width=0.5)
    for sp in ax.spines.values():
        sp.set_color(ink)
        sp.set_linewidth(0.6)

    ax.set_title(titles[i], fontsize=10.5, fontweight='bold', pad=3)
    ax.set_xlabel(xlabels[i], fontsize=10.4, color=ink, labelpad=6)
    ax.set_ylabel(ylabels[i], fontsize=10.4, color=ink, linespacing=1.3, labelpad=2)

    loc, anchor = legend_locs[i]
    leg = ax.legend(loc=loc, bbox_to_anchor=anchor, borderaxespad=0,
                    fontsize=8, frameon=True, fancybox=False, framealpha=1,
                    edgecolor=ink, handlelength=3.6, handletextpad=0.35,
                    borderpad=0.3, labelspacing=0.2, numpoints=1)
    leg.get_frame().set_linewidth(0.6)
    leg.set_zorder(5)

fig.savefig('out.png', dpi=100, facecolor='white')
